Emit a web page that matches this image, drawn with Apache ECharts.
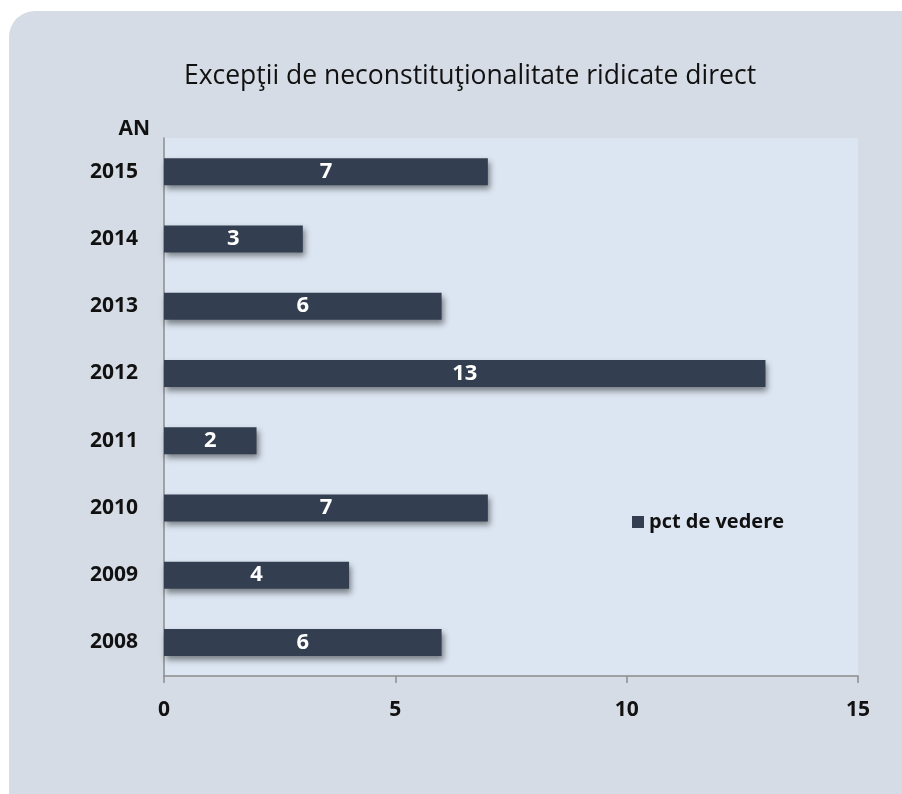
<!DOCTYPE html>
<html>
<head>
<meta charset="utf-8">
<script src="https://cdn.jsdelivr.net/npm/echarts@6/dist/echarts.min.js"></script>
<style>
  html, body { margin: 0; padding: 0; background: #fff; }
  #chart { width: 902px; height: 794px; }
</style>
</head>
<body>
<div id="chart"></div>
<script>
// data
var years = ['2008', '2009', '2010', '2011', '2012', '2013', '2014', '2015'];
var pctDeVedere = [6, 4, 7, 2, 13, 6, 3, 7];
var xTicks = [0, 5, 10, 15];

var chart = echarts.init(document.getElementById('chart'));

var font = "'Open Sans', 'Liberation Sans', sans-serif";

var option = {
  backgroundColor: '#ffffff',
  textStyle: { fontFamily: font },
  graphic: [{
    type: 'rect',
    z: -10,
    shape: { x: 9, y: 11, width: 920, height: 820, r: 26 },
    style: { fill: '#D6DCE5' }
  }],
  title: {
    text: 'Excepţii de neconstituţionalitate ridicate direct',
    left: 465,
    textAlign: 'center',
    top: 58,
    textStyle: { fontFamily: font, fontSize: 26.5, fontWeight: 'normal', color: '#111' }
  },
  legend: {
    data: ['pct de vedere'],
    left: 627,
    top: 507,
    itemWidth: 12,
    itemHeight: 12,
    itemGap: 6,
    icon: 'rect',
    textStyle: { fontFamily: font, fontSize: 20, fontWeight: 'bold', color: '#111' }
  },
  grid: {
    left: 164, right: 44, top: 138, bottom: 118,
    show: true, backgroundColor: '#DCE6F2', borderWidth: 0
  },
  xAxis: {
    type: 'value',
    min: xTicks[0],
    max: xTicks[xTicks.length - 1],
    interval: 5,
    axisLine: { show: true, lineStyle: { color: '#8c8c8c', width: 1.5 } },
    axisTick: { show: true, length: 7, lineStyle: { color: '#8c8c8c', width: 1.5 } },
    splitLine: { show: false },
    axisLabel: { margin: 24, fontSize: 21, fontWeight: 'bold', color: '#111', fontFamily: font }
  },
  yAxis: {
    type: 'category',
    data: years,
    name: 'AN',
    nameLocation: 'end',
    nameGap: -2,
    nameTextStyle: { fontSize: 21, fontWeight: 'bold', color: '#111', align: 'right', padding: [0, 14, 0, 0], fontFamily: font },
    axisLine: { show: true, lineStyle: { color: '#8c8c8c', width: 1.5 } },
    axisTick: { show: false },
    axisLabel: { margin: 26, fontSize: 21, fontWeight: 'bold', color: '#111', fontFamily: font }
  },
  series: [{
    name: 'pct de vedere',
    type: 'bar',
    data: pctDeVedere,
    barWidth: 27,
    itemStyle: {
      color: '#333F50',
      shadowColor: 'rgba(0,0,0,0.45)',
      shadowBlur: 6,
      shadowOffsetY: 4,
      shadowOffsetX: 2
    },
    label: {
      show: true,
      position: 'inside',
      color: '#fff',
      fontSize: 22,
      fontWeight: 'bold',
      fontFamily: font
    }
  }]
};

chart.setOption(option);
</script>
</body>
</html>
